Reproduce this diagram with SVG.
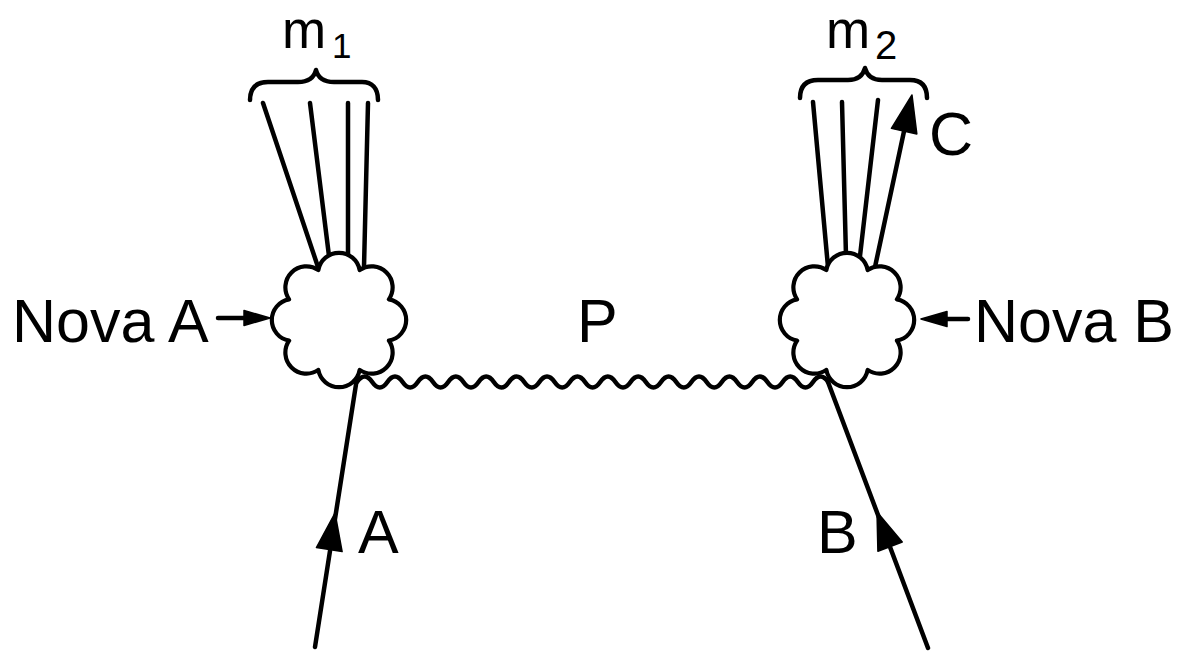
<svg xmlns="http://www.w3.org/2000/svg" width="1187" height="652" viewBox="0 0 1187 652">
  <style>
    .ln { fill: none; stroke: #000; stroke-width: 4.5; stroke-linecap: round; stroke-linejoin: round; }
    .cloud { fill: #fff; stroke: #000; stroke-width: 4.2; stroke-linejoin: round; }
    .head { fill: #000; stroke: #000; stroke-width: 1.5; stroke-linejoin: round; }
    .lbl { font-family: "Liberation Sans", Arial, sans-serif; font-size: 61px; fill: #000; }
    .sub { font-family: "Liberation Sans", Arial, sans-serif; fill: #000; }
  </style>
  <defs>
    <!-- scalloped blob, eight bumps around the origin -->
    <path id="blob" d="M-20.67,-49.89 A21,21 0 0 1 20.67,-49.89 A21,21 0 0 1 49.89,-20.67 A21,21 0 0 1 49.89,20.67 A21,21 0 0 1 20.67,49.89 A21,21 0 0 1 -20.67,49.89 A21,21 0 0 1 -49.89,20.67 A21,21 0 0 1 -49.89,-20.67 A21,21 0 0 1 -20.67,-49.89 Z"/>
    <!-- arrowheads, tip at the origin, pointing along +x -->
    <path id="bighead" d="M0,0 L-37,-13 L-37,13 Z"/>
    <path id="smallhead" d="M0,0 L-26,-7.5 L-26,7.5 Z"/>
  </defs>

  <rect width="1187" height="652" fill="#fff"/>

  <g id="connectors">
    <!-- outgoing tracks, left vertex -->
    <line class="ln" x1="263" y1="103" x2="318" y2="267"/>
    <line class="ln" x1="310" y1="103" x2="329" y2="256"/>
    <line class="ln" x1="348" y1="103" x2="348" y2="256"/>
    <line class="ln" x1="368" y1="103" x2="364" y2="267"/>
    <!-- outgoing tracks, right vertex -->
    <line class="ln" x1="813" y1="102" x2="828" y2="267"/>
    <line class="ln" x1="842" y1="102" x2="846" y2="256"/>
    <line class="ln" x1="878" y1="100" x2="860" y2="256"/>
    <line class="ln" x1="875" y1="267" x2="906" y2="122"/>
    <use href="#bighead" class="head" transform="translate(912,95) rotate(-77.7)"/>
    <!-- incoming particles -->
    <line class="ln" x1="315" y1="647" x2="357" y2="378"/>
    <use href="#bighead" class="head" transform="translate(335,513) rotate(-81.1)"/>
    <line class="ln" x1="928" y1="648" x2="828" y2="382"/>
    <use href="#bighead" class="head" transform="translate(877,512) rotate(-110.7)"/>
    <!-- exchanged P, wavy line -->
    <path class="ln" d="M357,382 q7.6,-11 15.2,0 t15.2,0 t15.2,0 t15.2,0 t15.2,0 t15.2,0 t15.2,0 t15.2,0 t15.2,0 t15.2,0 t15.2,0 t15.2,0 t15.2,0 t15.2,0 t15.2,0 t15.2,0 t15.2,0 t15.2,0 t15.2,0 t15.2,0 t15.2,0 t15.2,0 t15.2,0 t15.2,0 t15.2,0 t15.2,0 t15.2,0 t15.2,0 t15.2,0 t15.2,0 t15.2,0"/>
    <!-- detector pointers -->
    <line class="ln" x1="218" y1="318" x2="250" y2="318"/>
    <use href="#smallhead" class="head" transform="translate(270,318)"/>
    <line class="ln" x1="968" y1="319" x2="940" y2="319"/>
    <use href="#smallhead" class="head" transform="translate(921,319) rotate(180)"/>
    <!-- multiplicity braces -->
    <path class="ln" d="M250,100 C250,88 256,82 268,82 L298,82 C308,82 314,78 316,70 C318,78 324,82 334,82 L362,82 C372,82 378,88 378,100"/>
    <path class="ln" d="M800,98 C800,86 806,80 818,80 L848,80 C858,80 863,76 865,68 C867,76 872,80 882,80 L910,80 C921,80 927,86 927,98"/>
  </g>

  <g id="vertex-left">
    <use href="#blob" class="cloud" transform="translate(339,320)"/>
  </g>
  <g id="vertex-right">
    <use href="#blob" class="cloud" transform="translate(847,320)"/>
  </g>

  <g id="label-m1">
    <text class="sub" x="282" y="48" font-size="53">m</text>
    <text class="sub" x="332" y="58" font-size="35">1</text>
  </g>
  <g id="label-m2">
    <text class="sub" x="826" y="48" font-size="53">m</text>
    <text class="sub" x="875" y="59" font-size="40">2</text>
  </g>
  <g id="label-c"><text class="lbl" x="929" y="155">C</text></g>
  <g id="label-p"><text class="lbl" x="577" y="342">P</text></g>
  <g id="label-a"><text class="lbl" x="358" y="553">A</text></g>
  <g id="label-b"><text class="lbl" x="817" y="553">B</text></g>
  <g id="nova-a"><text class="lbl" x="12" y="342">Nova A</text></g>
  <g id="nova-b"><text class="lbl" x="974" y="342">Nova B</text></g>
</svg>
